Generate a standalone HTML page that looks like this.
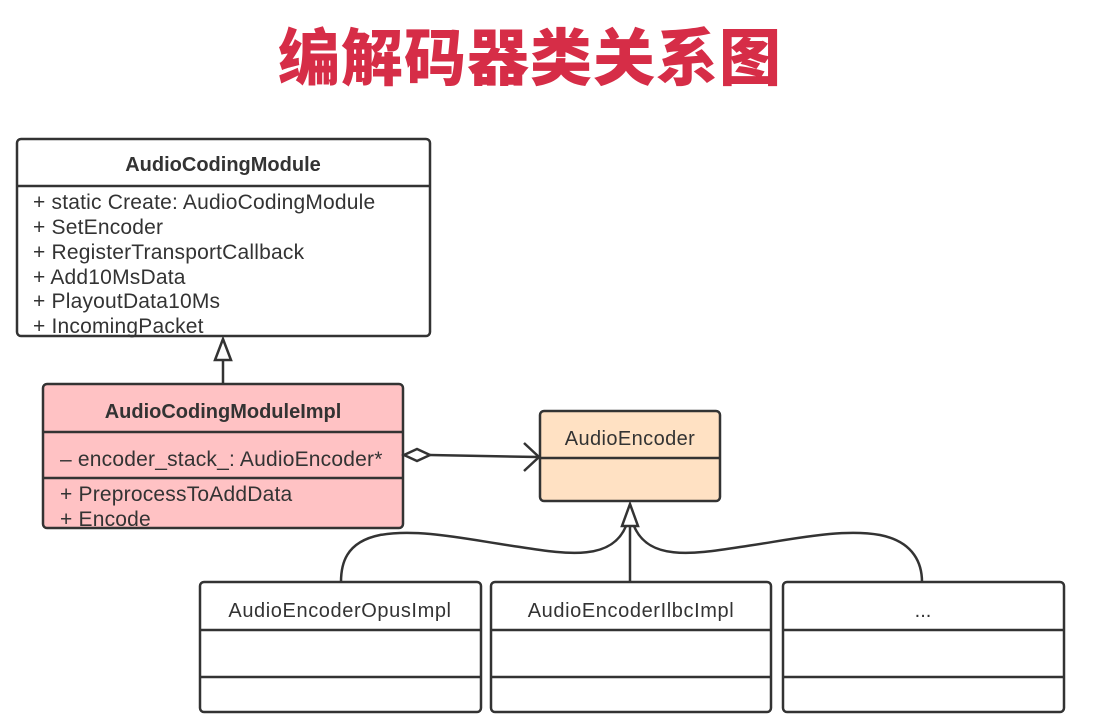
<!DOCTYPE html>
<html><head><meta charset="utf-8"><style>
html,body{margin:0;padding:0;background:#fff;}
svg{display:block;}
.t{font-family:"Liberation Sans",sans-serif;fill:#333;}
</style></head><body>
<svg width="1097" height="727" viewBox="0 0 1097 727" xmlns="http://www.w3.org/2000/svg">
<text x="530" y="80" text-anchor="middle" font-family="'Noto Sans CJK SC','WenQuanYi Zen Hei',sans-serif" font-weight="900" font-size="62" fill="#d62d47" letter-spacing="1">编解码器类关系图</text>

<g stroke="#333" stroke-width="2.5" fill="none">
<rect x="17" y="139" width="413" height="197" rx="4" fill="#fff"/>
<line x1="17" y1="186" x2="430" y2="186"/>
<rect x="43" y="384" width="360" height="144" rx="4" fill="#ffc2c4"/>
<line x1="43" y1="432" x2="403" y2="432"/>
<line x1="43" y1="478" x2="403" y2="478"/>
<rect x="540" y="411" width="180" height="90" rx="4" fill="#ffe1c3"/>
<line x1="540" y1="458" x2="720" y2="458"/>
<rect x="200" y="582" width="281" height="130" rx="4" fill="#fff"/>
<line x1="200" y1="630" x2="481" y2="630"/><line x1="200" y1="677" x2="481" y2="677"/>
<rect x="491" y="582" width="280" height="130" rx="4" fill="#fff"/>
<line x1="491" y1="630" x2="771" y2="630"/><line x1="491" y1="677" x2="771" y2="677"/>
<rect x="783" y="582" width="281" height="130" rx="4" fill="#fff"/>
<line x1="783" y1="630" x2="1064" y2="630"/><line x1="783" y1="677" x2="1064" y2="677"/>

<line x1="223" y1="384" x2="223" y2="360"/>
<polygon points="223,339 215,360 231,360" fill="#fff"/>
<polygon points="404,455 417,449 430,455 417,461" fill="#fff"/>
<line x1="430" y1="455" x2="538" y2="457"/>
<polyline points="524,443 539,457 524,471"/>
<line x1="630" y1="526" x2="630" y2="582"/>
<polygon points="630,504 622,526 638,526" fill="#fff"/>
<path d="M626,526 C612,560 570,555 520,547 C470,540 420,528 380,535 C345,542 341,565 341,582"/>
<path d="M634,526 C648,560 690,555 740,547 C790,540 840,528 880,535 C915,542 922,565 922,582"/>
</g>

<g class="t">
<text x="223" y="171" text-anchor="middle" font-size="20" font-weight="bold">AudioCodingModule</text>
<g font-size="21" letter-spacing="0.2">
<text x="33" y="209">+ static Create: AudioCodingModule</text>
<text x="33" y="234">+ SetEncoder</text>
<text x="33" y="259">+ RegisterTransportCallback</text>
<text x="33" y="284">+ Add10MsData</text>
<text x="33" y="308">+ PlayoutData10Ms</text>
<text x="33" y="333">+ IncomingPacket</text>
</g>
<text x="223" y="418" text-anchor="middle" font-size="20" font-weight="bold">AudioCodingModuleImpl</text>
<g font-size="21" letter-spacing="0.2">
<text x="60" y="466">– encoder_stack_: AudioEncoder*</text>
<text x="60" y="501">+ PreprocessToAddData</text>
<text x="60" y="526">+ Encode</text>
</g>
<text x="630" y="445" text-anchor="middle" font-size="20" letter-spacing="0.4">AudioEncoder</text>
<text x="340" y="617" text-anchor="middle" font-size="20" letter-spacing="0.6">AudioEncoderOpusImpl</text>
<text x="631" y="617" text-anchor="middle" font-size="20" letter-spacing="0.6">AudioEncoderIlbcImpl</text>
<text x="923" y="617" text-anchor="middle" font-size="20">...</text>
</g>
</svg>
</body></html>
